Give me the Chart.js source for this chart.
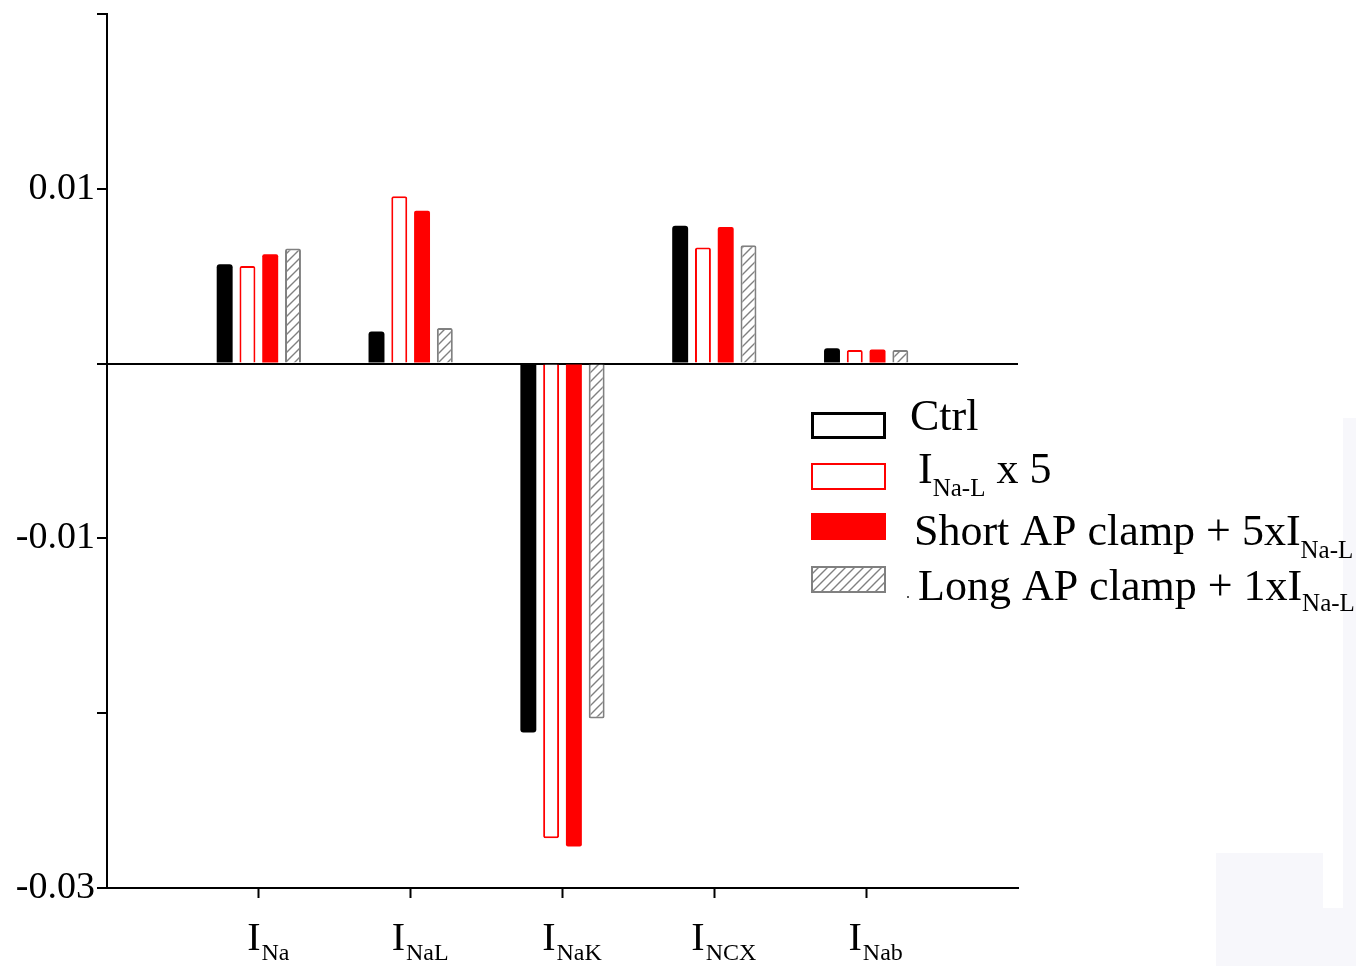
<!DOCTYPE html>
<html>
<head>
<meta charset="utf-8">
<script src="https://cdn.jsdelivr.net/npm/chart.js@4/dist/chart.umd.min.js"></script>
<style>
html,body{margin:0;padding:0;background:#fff;}
#wrap{position:relative;width:1370px;height:966px;}
</style>
</head>
<body>
<div id="wrap"><canvas id="c" width="1370" height="966"></canvas></div>
<script>
// ---- data ----
const categories = ['', 'INa', 'INaL', 'INaK', 'INCX', 'INab', ''];
const tickMain = ['I', 'I', 'I', 'I', 'I'];
const tickSub = ['Na', 'NaL', 'NaK', 'NCX', 'Nab'];
const ctrl      = [null, 0.00569, 0.00183, -0.02111, 0.00788, 0.00088, null];
const inalx5    = [null, 0.00558, 0.00958, -0.02715, 0.00664, 0.00078, null];
const shortAP   = [null, 0.00626, 0.00874, -0.02763, 0.00782, 0.00080, null];
const longAP    = [null, 0.00658, 0.00204, -0.02031, 0.00677, 0.00078, null];
const seriesNames = ['Ctrl', 'INa-L x 5', 'Short AP clamp + 5xINa-L', 'Long AP clamp + 1xINa-L'];
const yTickLabels = {'0.01': '0.01', '-0.01': '-0.01', '-0.03': '-0.03'};

const SERIF = "'Liberation Serif', 'Times New Roman', serif";

// hatch pattern
function makeHatch() {
  const p = document.createElement('canvas');
  p.width = 9; p.height = 9;
  const g = p.getContext('2d');
  g.fillStyle = '#fff'; g.fillRect(0, 0, 9, 9);
  g.strokeStyle = '#808080'; g.lineWidth = 1.4;
  g.beginPath();
  g.moveTo(-1, 10); g.lineTo(10, -1);
  g.moveTo(-1, 1); g.lineTo(1, -1);
  g.moveTo(8, 10); g.lineTo(10, 8);
  g.stroke();
  return g.createPattern(p, 'repeat');
}
const ctx = document.getElementById('c').getContext('2d');
const hatch = makeHatch();

const xLabelPlugin = {
  id: 'xLabels',
  afterDraw(chart) {
    const c = chart.ctx, xs = chart.scales.x;
    c.save();
    c.fillStyle = '#000';
    c.textBaseline = 'alphabetic';
    for (let i = 0; i < tickMain.length; i++) {
      const x = xs.getPixelForValue(i + 1);
      c.font = '40px ' + SERIF;
      const w1 = c.measureText(tickMain[i]).width;
      c.font = '24px ' + SERIF;
      const w2 = c.measureText(tickSub[i]).width;
      const start = x - (w1 + w2) / 2 + 9;
      c.font = '40px ' + SERIF;
      c.fillText(tickMain[i], start, 950);
      c.font = '24px ' + SERIF;
      c.fillText(tickSub[i], start + w1 + 1, 960);
    }
    c.restore();
  }
};

const legendPlugin = {
  id: 'customLegend',
  afterDraw(chart) {
    const c = chart.ctx;
    c.save();
    // faint scan artifacts
    c.fillStyle = '#f7f7fb';
    c.fillRect(1343, 418, 13, 548);
    c.fillRect(1216, 853, 107, 113);
    c.fillRect(1323, 908, 33, 58);

    const bx = 811, bw = 75, bh = 27;
    const tops = [412, 463, 513, 566];
    // box 1
    c.fillStyle = '#fff'; c.fillRect(bx, tops[0], bw, bh);
    c.strokeStyle = '#000'; c.lineWidth = 3; c.strokeRect(bx + 1.5, tops[0] + 1.5, bw - 3, bh - 3);
    // box 2
    c.fillStyle = '#fff'; c.fillRect(bx, tops[1], bw, bh);
    c.strokeStyle = '#ff0000'; c.lineWidth = 2; c.strokeRect(bx + 1, tops[1] + 1, bw - 2, bh - 2);
    // box 3
    c.fillStyle = '#ff0000'; c.fillRect(bx, tops[2], bw, bh);
    // box 4
    c.fillStyle = hatch; c.fillRect(bx, tops[3], bw, bh);
    c.strokeStyle = '#808080'; c.lineWidth = 2; c.strokeRect(bx + 1, tops[3] + 1, bw - 2, bh - 2);
    c.fillStyle = '#555'; c.fillRect(907, 596, 2, 2);

    c.fillStyle = '#000';
    c.textBaseline = 'alphabetic';
    const big = '44px ' + SERIF, small = '25px ' + SERIF;
    function seg(parts, x) {
      for (const [t, f, y] of parts) {
        c.font = f; c.fillText(t, x, y); x += c.measureText(t).width;
      }
    }
    seg([[seriesNames[0], big, 430]], 910);
    seg([['I', big, 483], ['Na-L', small, 496], [' x 5', big, 483]], 918);
    seg([['Short AP clamp + 5xI', big, 545], ['Na-L', small, 558]], 914);
    seg([['Long AP clamp + 1xI', big, 600], ['Na-L', small, 611]], 918);
    c.restore();
  }
};

new Chart(ctx, {
  type: 'bar',
  data: {
    labels: categories,
    datasets: [
      { label: seriesNames[0], data: ctrl, backgroundColor: '#000', borderColor: '#000', borderWidth: 0, borderRadius: 3, borderSkipped: 'start' },
      { label: seriesNames[1], data: inalx5, backgroundColor: '#fff', borderColor: '#ff0000', borderWidth: 2, borderRadius: 2, borderSkipped: 'start' },
      { label: seriesNames[2], data: shortAP, backgroundColor: '#ff0000', borderColor: '#ff0000', borderWidth: 0, borderRadius: 2, borderSkipped: 'start' },
      { label: seriesNames[3], data: longAP, backgroundColor: hatch, borderColor: '#808080', borderWidth: 2, borderRadius: 2, borderSkipped: 'start' }
    ]
  },
  options: {
    responsive: false,
    animation: false,
    maintainAspectRatio: false,
    layout: { padding: { top: 14, right: 352, left: 0, bottom: 0 } },
    plugins: { legend: { display: false }, tooltip: { enabled: false } },
    datasets: { bar: { categoryPercentage: 0.6, barPercentage: 0.7 } },
    scales: {
      x: {
        offset: false,
        grid: {
          offset: false,
          color: 'rgba(0,0,0,0)',
          drawOnChartArea: false,
          tickLength: 10,
          tickWidth: 2,
          tickColor: (ctx) => (ctx.index === 0 || ctx.index === categories.length - 1) ? 'rgba(0,0,0,0)' : '#000'
        },
        border: { display: true, color: '#000', width: 2 },
        ticks: { display: false, autoSkip: false },
        afterFit(s) { s.height = 78; s.paddingLeft = 0; s.paddingRight = 0; }
      },
      y: {
        min: -0.03, max: 0.02,
        grid: {
          color: (ctx) => (ctx.tick && Math.round(ctx.tick.value * 1000) === 0) ? '#000' : 'rgba(0,0,0,0)',
          lineWidth: 2,
          tickLength: 10,
          tickWidth: 2,
          tickColor: '#000',
          drawTicks: true
        },
        border: { display: true, color: '#000', width: 2 },
        ticks: {
          stepSize: 0.01,
          padding: 2,
          color: '#000',
          font: { family: SERIF, size: 38 },
          callback: (v) => {
            const k = (Math.round(v * 100) / 100).toString();
            return yTickLabels[k] || '';
          }
        },
        afterFit(s) { s.width = 107; s.paddingTop = 0; s.paddingBottom = 0; }
      }
    }
  },
  plugins: [xLabelPlugin, legendPlugin]
});
</script>
</body>
</html>
